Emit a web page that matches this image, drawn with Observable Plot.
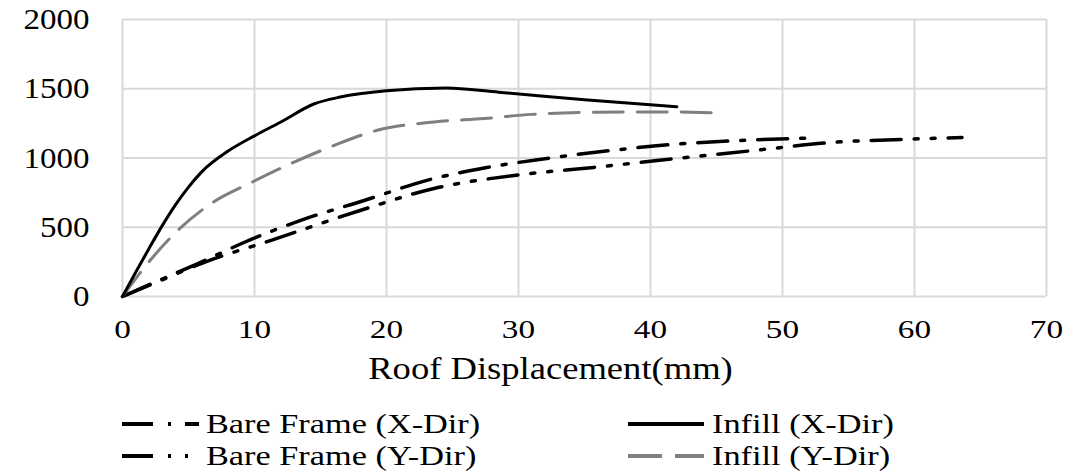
<!DOCTYPE html>
<html>
<head>
<meta charset="utf-8">
<script src="https://cdn.jsdelivr.net/npm/d3@7"></script>
<script src="https://cdn.jsdelivr.net/npm/@observablehq/plot@0.6"></script>
<style>
  html, body { margin: 0; padding: 0; background: #fff; }
  #wrap { position: relative; width: 1083px; height: 473px; overflow: hidden; background: #fff; font-family: 'Liberation Serif', 'Times New Roman', serif; }
  .leg { position: absolute; height: 28px; display: flex; align-items: center; white-space: nowrap; }
  .leg span { display: inline-block; font-size: 27px; line-height: 28px; transform: scaleX(1.27); transform-origin: left center; color: #000; }
  .leg svg { display: block; }
</style>
</head>
<body>
<div id="wrap"></div>
<script>
// ---- data ----
const xTicks = [0, 10, 20, 30, 40, 50, 60, 70];
const yTicks = [0, 500, 1000, 1500, 2000];
const xTitle = "Roof Displacement(mm)";

const seriesNames = ["Bare Frame (X-Dir)", "Infill (X-Dir)", "Bare Frame (Y-Dir)", "Infill (Y-Dir)"];

const bareXDisp  = [0, 3.1, 6, 9.2, 13.5, 18.3, 23, 27.6, 32, 37, 41.9, 46.7, 52.5];
const bareXForce = [0, 130, 250, 390, 550, 693, 837, 931, 995, 1054, 1100, 1126, 1145];

const bareYDisp  = [0, 3, 6, 11.2, 18, 23.6, 30.2, 35.7, 41.6, 47.8, 53.7, 59.9, 63.6];
const bareYForce = [0, 120, 240, 404, 621, 780, 880, 932, 993, 1054, 1112, 1137, 1148];

const infillXDisp  = [0, 1, 2, 3, 4, 5, 6, 8, 10, 12, 14.5, 16.5, 20, 24.5, 28.5, 35, 42];
const infillXForce = [0, 175, 345, 510, 660, 790, 900, 1050, 1160, 1260, 1390, 1440, 1485, 1505, 1475, 1420, 1370];

const infillYDisp  = [0, 2, 4, 6.7, 9.8, 13, 16, 19.3, 23.6, 27.4, 31, 36, 41, 45.5];
const infillYForce = [0, 250, 460, 670, 825, 970, 1090, 1200, 1260, 1285, 1315, 1330, 1333, 1325];

// ---- build tables ----
const toRows = (xs, ys) => xs.map((d, i) => ({d, f: ys[i]}));
const dataBy = {
  "Bare Frame (X-Dir)": toRows(bareXDisp, bareXForce),
  "Bare Frame (Y-Dir)": toRows(bareYDisp, bareYForce),
  "Infill (X-Dir)": toRows(infillXDisp, infillXForce),
  "Infill (Y-Dir)": toRows(infillYDisp, infillYForce)
};

const styles = {
  "Bare Frame (X-Dir)": {stroke: "#000", strokeWidth: 3.5, dash: "30,13,4,13", legDash: "31,15,3,14,14"},
  "Bare Frame (Y-Dir)": {stroke: "#000", strokeWidth: 3.5, dash: "30,13,4,13,4,13", legDash: "31,15,3,14,3,20"},
  "Infill (X-Dir)": {stroke: "#000", strokeWidth: 3, dash: null, legDash: null},
  "Infill (Y-Dir)": {stroke: "#7f7f7f", strokeWidth: 3, dash: "30,14", legDash: "34,13,30"}
};

const lineMark = name => Plot.line(dataBy[name], {
  x: "d", y: "f", stroke: styles[name].stroke, strokeWidth: styles[name].strokeWidth,
  strokeDasharray: styles[name].dash || undefined, curve: "monotone-x"
});

const chart = Plot.plot({
  width: 1083, height: 395,
  marginLeft: 122, marginRight: 37, marginTop: 19, marginBottom: 99,
  style: {fontFamily: "'Liberation Serif', 'Times New Roman', serif", fontSize: "26px", color: "#000", background: "#fff", overflow: "visible"},
  x: {domain: [0, 70], ticks: xTicks, tickSize: 0, tickPadding: 23, tickFormat: d => String(d), label: null},
  y: {domain: [0, 2000], ticks: yTicks, tickSize: 0, tickPadding: 33, tickFormat: d => String(d), label: null},
  marks: [
    Plot.gridX(xTicks, {stroke: "#d9d9d9", strokeOpacity: 1, strokeWidth: 2}),
    Plot.gridY(yTicks, {stroke: "#d9d9d9", strokeOpacity: 1, strokeWidth: 2}),
    Plot.axisY(yTicks, {tickSize: 0, tickPadding: 33, tickFormat: d => String(d), fontSize: 30, label: null}),
    Plot.axisX(xTicks, {tickSize: 0, tickPadding: 23, tickFormat: d => String(d), fontSize: 26, label: null}),
    lineMark("Bare Frame (Y-Dir)"),
    lineMark("Bare Frame (X-Dir)"),
    lineMark("Infill (Y-Dir)"),
    lineMark("Infill (X-Dir)"),
    Plot.text([xTitle], {text: d => d, frameAnchor: "bottom", lineAnchor: "middle", dx: -34, dy: 73, fontSize: 31, fill: "#000"})
  ]
});

const wrap = document.getElementById("wrap");
wrap.appendChild(chart);

// horizontally stretch text like the reference (anchored at each text's own anchor)
chart.querySelectorAll("text").forEach(t => {
  const g = t.closest("g[aria-label]");
  const lab = g ? g.getAttribute("aria-label") : "";
  let k = 1.18;
  if (lab.startsWith("y-axis")) k = 1.1;
  else if (lab.startsWith("x-axis")) k = 1.28;
  const bb = t.getBBox();
  const anchor = getComputedStyle(t).textAnchor || "start";
  let cx = bb.x;
  if (anchor === "middle") cx = bb.x + bb.width / 2;
  else if (anchor === "end") cx = bb.x + bb.width;
  const prev = t.getAttribute("transform") || "";
  t.setAttribute("transform", `${prev} translate(${cx},0) scale(${k},1) translate(${-cx},0)`);
});

// ---- legend ----
const legendLayout = [
  {name: "Bare Frame (X-Dir)", left: 122, top: 410},
  {name: "Infill (X-Dir)", left: 628, top: 410},
  {name: "Bare Frame (Y-Dir)", left: 122, top: 442},
  {name: "Infill (Y-Dir)", left: 628, top: 442}
];
legendLayout.forEach(item => {
  const s = styles[item.name];
  const div = document.createElement("div");
  div.className = "leg";
  div.style.left = item.left + "px";
  div.style.top = item.top + "px";
  const ns = "http://www.w3.org/2000/svg";
  const sw = document.createElementNS(ns, "svg");
  sw.setAttribute("width", 84); sw.setAttribute("height", 28);
  const ln = document.createElementNS(ns, "line");
  ln.setAttribute("x1", 0); ln.setAttribute("x2", item.name.startsWith("Bare") ? 77 : 76);
  ln.setAttribute("y1", 14); ln.setAttribute("y2", 14);
  ln.setAttribute("stroke", s.stroke);
  ln.setAttribute("stroke-width", 4);
  if (s.legDash) ln.setAttribute("stroke-dasharray", s.legDash);
  sw.appendChild(ln);
  div.appendChild(sw);
  const sp = document.createElement("span");
  sp.textContent = item.name;
  div.appendChild(sp);
  wrap.appendChild(div);
});
</script>
</body>
</html>
